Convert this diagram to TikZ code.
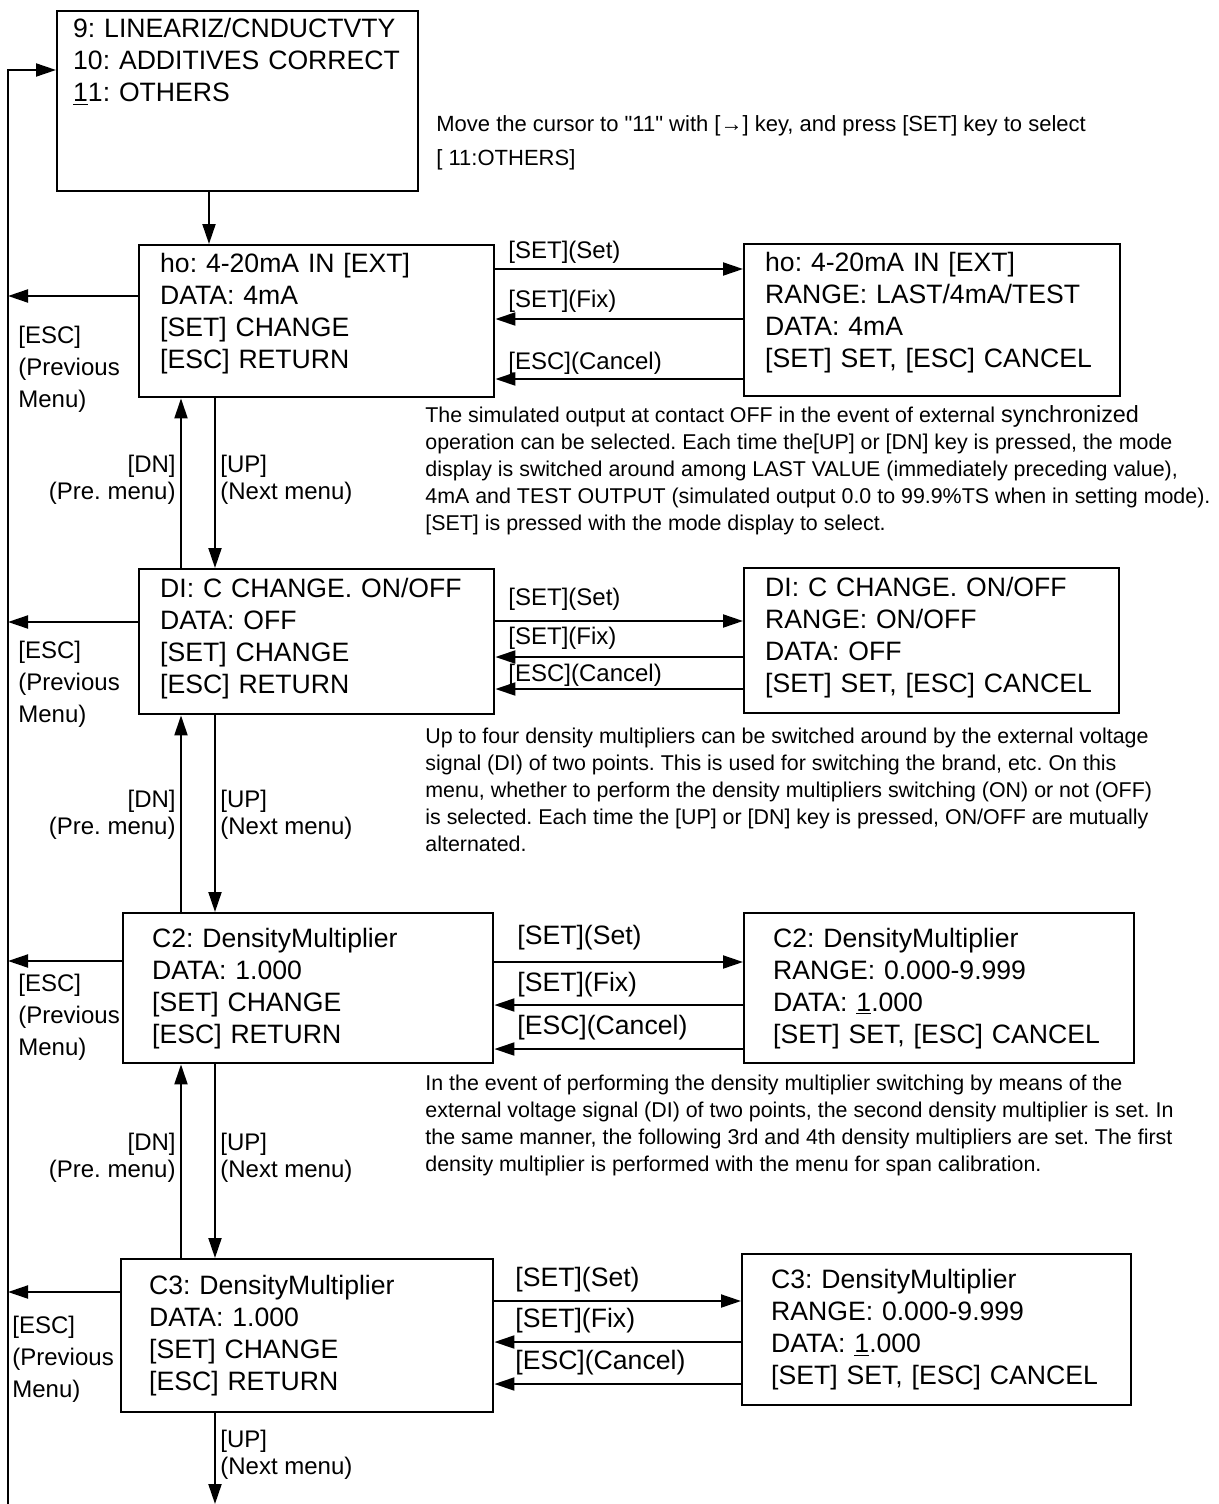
\documentclass[tikz,border=0pt]{standalone}
\usepackage{fontspec}
\setmainfont{Liberation Sans}[Ligatures=TeXOff]
\usetikzlibrary{arrows.meta,positioning,calc}
\frenchspacing

\newcommand{\scrnfont}{\fontsize{13.3}{16}\selectfont}
\newcommand{\keyfont}{\fontsize{12}{16}\selectfont}
\newcommand{\notefont}{\fontsize{10.7}{13.5}\selectfont}

\begin{document}
\begin{tikzpicture}[x=0.5pt,y=-0.5pt,
  scrn/.style={draw,line width=1.2pt,anchor=north west,align=left,font=\scrnfont,inner ysep=0pt,
               execute at begin node={\hyphenpenalty=10000\exhyphenpenalty=10000}},
  arr/.style={-{Triangle[length=10pt,width=6.5pt]},line width=1pt},
  keylbl/.style={font=\keyfont,inner sep=0pt},
  keybig/.style={font=\scrnfont,inner sep=0pt},
  note/.style={font=\notefont,align=left,anchor=north west,inner sep=0pt},
]
\useasboundingbox (0,0) rectangle (1219,1504);

% menu screens
\node[scrn,inner xsep=8pt,text width=164.5pt,minimum height=90pt] (menu) at (56,10)
  {9: LINEARIZ/CNDUCTVTY\\10: ADDITIVES CORRECT\\\underline{1}1: OTHERS\\[25pt]\mbox{}};
\node[scrn,inner xsep=10.5pt,text width=156.5pt,minimum height=76pt] (ho) at (138,244)
  {ho: 4-20mA IN [EXT]\\DATA: 4mA\\{[SET]} CHANGE\\{[ESC]} RETURN\\[-6pt]\mbox{}};
\node[scrn,inner xsep=10.5pt,text width=167pt,minimum height=76pt] (hoR) at (743,243)
  {ho: 4-20mA IN [EXT]\\RANGE: LAST/4mA/TEST\\DATA: 4mA\\{[SET]} SET, [ESC] CANCEL\\[-6pt]\mbox{}};
\node[scrn,inner xsep=10.5pt,text width=156.5pt,minimum height=72.5pt] (DI) at (138,568)
  {DI: C CHANGE. ON/OFF\\DATA: OFF\\{[SET]} CHANGE\\{[ESC]} RETURN\\[-10pt]\mbox{}};
\node[scrn,inner xsep=10.5pt,text width=166.5pt,minimum height=72.5pt] (DIR) at (743,567)
  {DI: C CHANGE. ON/OFF\\RANGE: ON/OFF\\DATA: OFF\\{[SET]} SET, [ESC] CANCEL\\[-10pt]\mbox{}};
\node[scrn,inner xsep=14.5pt,text width=156pt,minimum height=75pt] (C2) at (122,912)
  {C2: DensityMultiplier\\DATA: 1.000\\{[SET]} CHANGE\\{[ESC]} RETURN};
\node[scrn,inner xsep=14.5pt,text width=166pt,minimum height=75pt] (C2R) at (743,912)
  {C2: DensityMultiplier\\RANGE: 0.000-9.999\\DATA: \underline{1}.000\\{[SET]} SET, [ESC] CANCEL};
\node[scrn,inner xsep=14pt,text width=158pt,minimum height=76.5pt] (C3) at (120,1258)
  {C3: DensityMultiplier\\DATA: 1.000\\{[SET]} CHANGE\\{[ESC]} RETURN};
\node[scrn,inner xsep=14.5pt,text width=165.5pt,minimum height=75.5pt] (C3R) at (741,1253)
  {C3: DensityMultiplier\\RANGE: 0.000-9.999\\DATA: \underline{1}.000\\{[SET]} SET, [ESC] CANCEL};

% return rail on the left
\coordinate (railtop) at (8,70);
\coordinate (railbot) at (8,1504);
\coordinate (exitC3) at (215,1504);
\draw[arr] (railbot) -- (railtop) -- (menu.west |- railtop);
\draw[arr] (menu.south -| 209,0) -- (ho.north -| 209,0);

% ho row
\draw[arr] (ho.west |- 0,296) -- (railtop |- 0,296);
\draw[arr] (ho.east |- 0,269) -- (hoR.west |- 0,269);
\draw[arr] (hoR.west |- 0,319) -- (ho.east |- 0,319);
\draw[arr] (hoR.west |- 0,379) -- (ho.east |- 0,379);
\draw[arr] (DI.north -| 181,0) -- (ho.south -| 181,0);
\draw[arr] (ho.south -| 215,0) -- (DI.north -| 215,0);
\node[keylbl,anchor=west] (hoSet) at (508,252) {[SET](Set)};
\node[keylbl,anchor=west] (hoFix) at (508,301) {[SET](Fix)};
\node[keylbl,anchor=west] (hoCan) at (508,363) {[ESC](Cancel)};
\node[keylbl,anchor=west,align=left] (hoEsc) at (18,369) {[ESC]\\(Previous\\Menu)};
\node[keylbl,anchor=east,align=right,font=\fontsize{12}{13.5}\selectfont] (hoDn) at (176,480) {[DN]\\(Pre. menu)};
\node[keylbl,anchor=west,align=left,font=\fontsize{12}{13.5}\selectfont] (hoUp) at (220,480) {[UP]\\(Next menu)};

% DI row
\draw[arr] (DI.west |- 0,622) -- (railtop |- 0,622);
\draw[arr] (DI.east |- 0,621) -- (DIR.west |- 0,621);
\draw[arr] (DIR.west |- 0,657) -- (DI.east |- 0,657);
\draw[arr] (DIR.west |- 0,689) -- (DI.east |- 0,689);
\draw[arr] (C2.north -| 181,0) -- (DI.south -| 181,0);
\draw[arr] (DI.south -| 215,0) -- (C2.north -| 215,0);
\node[keylbl,anchor=west] (DISet) at (508,599) {[SET](Set)};
\node[keylbl,anchor=west] (DIFix) at (508,638) {[SET](Fix)};
\node[keylbl,anchor=west] (DICan) at (508,675) {[ESC](Cancel)};
\node[keylbl,anchor=west,align=left] (DIEsc) at (18,684) {[ESC]\\(Previous\\Menu)};
\node[keylbl,anchor=east,align=right,font=\fontsize{12}{13.5}\selectfont] (DIDn) at (176,815) {[DN]\\(Pre. menu)};
\node[keylbl,anchor=west,align=left,font=\fontsize{12}{13.5}\selectfont] (DIUp) at (220,815) {[UP]\\(Next menu)};

% C2 row
\draw[arr] (C2.west |- 0,961) -- (railtop |- 0,961);
\draw[arr] (C2.east |- 0,962) -- (C2R.west |- 0,962);
\draw[arr] (C2R.west |- 0,1005) -- (C2.east |- 0,1005);
\draw[arr] (C2R.west |- 0,1049) -- (C2.east |- 0,1049);
\draw[arr] (C3.north -| 181,0) -- (C2.south -| 181,0);
\draw[arr] (C2.south -| 215,0) -- (C3.north -| 215,0);
\node[keybig,anchor=west] (C2Set) at (517,938) {[SET](Set)};
\node[keybig,anchor=west] (C2Fix) at (517,985) {[SET](Fix)};
\node[keybig,anchor=west] (C2Can) at (517,1028) {[ESC](Cancel)};
\node[keylbl,anchor=west,align=left] (C2Esc) at (18,1017) {[ESC]\\(Previous\\Menu)};
\node[keylbl,anchor=east,align=right,font=\fontsize{12}{13.5}\selectfont] (C2Dn) at (176,1158) {[DN]\\(Pre. menu)};
\node[keylbl,anchor=west,align=left,font=\fontsize{12}{13.5}\selectfont] (C2Up) at (220,1158) {[UP]\\(Next menu)};

% C3 row
\draw[arr] (C3.west |- 0,1292) -- (railtop |- 0,1292);
\draw[arr] (C3.east |- 0,1301) -- (C3R.west |- 0,1301);
\draw[arr] (C3R.west |- 0,1342) -- (C3.east |- 0,1342);
\draw[arr] (C3R.west |- 0,1384) -- (C3.east |- 0,1384);
\draw[arr] (C3.south -| exitC3) -- (exitC3);
\node[keybig,anchor=west] (C3Set) at (515,1280) {[SET](Set)};
\node[keybig,anchor=west] (C3Fix) at (515,1321) {[SET](Fix)};
\node[keybig,anchor=west] (C3Can) at (515,1363) {[ESC](Cancel)};
\node[keylbl,anchor=west,align=left] (C3Esc) at (12,1359) {[ESC]\\(Previous\\Menu)};
\node[keylbl,anchor=west,align=left,font=\fontsize{12}{13.5}\selectfont] (C3Up) at (220,1455) {[UP]\\(Next menu)};

% notes
\node[note,font=\fontsize{11}{17}\selectfont] (noteMenu) at (436,115)
  {Move the cursor to "11" with [→] key, and press [SET] key to select\\{[} 11:OTHERS]};
\node[note] (noteHo) at (425,405)
  {The simulated output at contact OFF in the event of external {\fontsize{11.7}{13.5}\selectfont synchronized}\\
   operation can be selected. Each time the[UP] or [DN] key is pressed, the mode\\
   display is switched around among LAST VALUE (immediately preceding value),\\
   4mA and TEST OUTPUT (simulated output 0.0 to 99.9\%TS when in setting mode).\\
   {[SET]} is pressed with the mode display to select.};
\node[note] (noteDI) at (425,728)
  {Up to four density multipliers can be switched around by the external voltage\\
   signal (DI) of two points. This is used for switching the brand, etc. On this\\
   menu, whether to perform the density multipliers switching (ON) or not (OFF)\\
   is selected. Each time the [UP] or [DN] key is pressed, ON/OFF are mutually\\
   alternated.};
\node[note] (noteC2) at (425,1075)
  {In the event of performing the density multiplier switching by means of the\\
   external voltage signal (DI) of two points, the second density multiplier is set. In\\
   the same manner, the following 3rd and 4th density multipliers are set. The first\\
   density multiplier is performed with the menu for span calibration.};
\end{tikzpicture}
\end{document}
